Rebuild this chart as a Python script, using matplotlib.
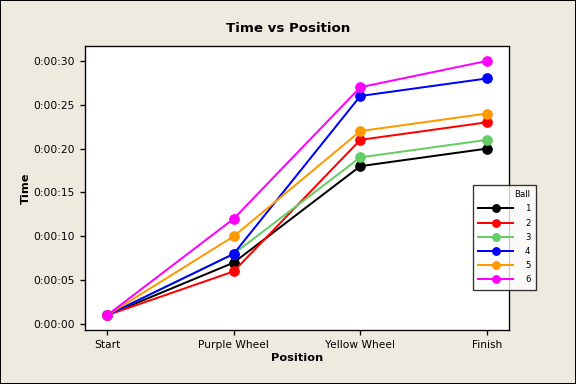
import matplotlib
matplotlib.use("Agg")
import matplotlib.pyplot as plt
from matplotlib.ticker import FuncFormatter

positions = ["Start", "Purple Wheel", "Yellow Wheel", "Finish"]
balls = ["1", "2", "3", "4", "5", "6"]
ball1 = [1, 7, 18, 20]
ball2 = [1, 6, 21, 23]
ball3 = [1, 8, 19, 21]
ball4 = [1, 8, 26, 28]
ball5 = [1, 10, 22, 24]
ball6 = [1, 12, 27, 30]
series = [ball1, ball2, ball3, ball4, ball5, ball6]
colors = ["#000000", "#FF0000", "#66CC66", "#0000FF", "#FF9900", "#FF00FF"]
yticks = [0, 5, 10, 15, 20, 25, 30]

plt.rcParams['font.family'] = ['DejaVu Sans']
bg = "#EEEAE0"
fig = plt.figure(figsize=(6, 4), dpi=96, facecolor=bg)
ax = fig.add_axes([85/576, 1-330/384, (509-85)/576, (330-46)/384])
ax.set_facecolor("white")

x = list(range(len(positions)))
for name, vals, c in zip(balls, series, colors):
    ax.plot(x, vals, color=c, lw=1.5, marker='o', ms=7, label=name)

ax.set_xlim(-0.174, 3.174)
ax.set_ylim(-0.68, 31.7)
ax.set_xticks(x)
ax.set_xticklabels(positions, fontsize=8)
ax.set_yticks(yticks)
ax.yaxis.set_major_formatter(FuncFormatter(lambda v, p: "0:00:%02d" % int(round(v))))
ax.tick_params(axis='y', labelsize=8)
ax.tick_params(direction='out', length=4, width=1, color='black', top=False, right=False)
for s in ax.spines.values():
    s.set_linewidth(1)
    s.set_color("black")

ax.set_xlabel("Position", fontsize=8.5, fontweight='bold', labelpad=2)
ax.set_ylabel("Time", fontsize=8.5, fontweight='bold', labelpad=2)
fig.text(0.5, 1-28/384, "Time vs Position", ha='center', va='center', fontsize=10, fontweight='bold')

leg = ax.legend(title="Ball", loc='upper left', bbox_to_anchor=((473-85)/424, (330-185)/284),
                borderaxespad=0, fontsize=6.5, title_fontsize=6.5, frameon=True, fancybox=False,
                edgecolor='black', markerscale=0.8, handlelength=4.0, handletextpad=1.4,
                borderpad=0.6, labelspacing=0.6, markerfirst=True)
leg.get_frame().set_linewidth(1)
leg._legend_box.align = "right"
for t in leg.get_texts():
    t.set_ha('right')

fig.patches.append(plt.Rectangle((0, 0), 1, 1, transform=fig.transFigure, fill=False,
                                 edgecolor='black', lw=1.5))
fig.savefig("out.png", dpi=96, facecolor=bg)
